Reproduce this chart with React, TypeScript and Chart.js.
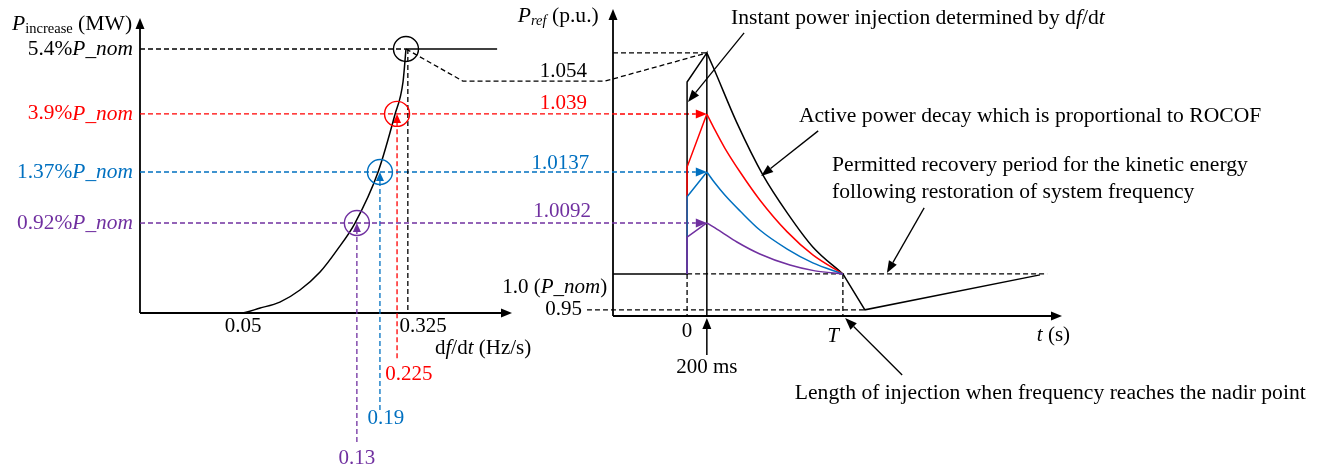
import React, { useEffect, useRef } from 'react';
import { Chart, registerables } from 'chart.js';

Chart.register(...registerables);

// ---------------- DATA (schematic units: every axis runs 0 → 100 up to its arrow tip) ----------------
// Left panel: df/dt (ROCOF) → P_increase
const curveX = [0, 26.9, 32.3, 37.6, 43.0, 48.4, 53.0, 57.8, 64.0, 68.5, 70.7, 71.5];
const curveY = [0, 0, 1.7, 3.7, 7.8, 13.9, 21.4, 30.5, 47.8, 67.1, 78.3, 89.5];
const capX = [71.5, 96.0];
const incLabels = ['5.4%', '3.9%', '1.37%', '0.92%'];
const incLevels = [89.5, 67.5, 47.8, 30.5];
const circleX = [71.5, 69.1, 64.5, 58.3];
const rocofLabels = ['0.325', '0.225', '0.19', '0.13'];
const rocofX = [72.0, 69.1, 64.5, 58.3];
const rocofDashBottom = [0, -15.3, -32.9, -43.7];
const rocofLabelX = [76.1, 72.3, 66.1, 58.3];
const rocofLabelY = [-4.7, -20.7, -35.9, -49.2];
const minRocofLabel = '0.05';
const minRocofX = 27.7;

// Right panel: t → P_ref
const prefLabels = ['1.054', '1.039', '1.0137', '1.0092'];
const prefLevels = [85.7, 65.8, 46.9, 30.3];
const prefStart = [76.2, 48.5, 38.8, 25.7];
const prefLabelRight = [-5.8, -5.8, -5.3, -4.9];
const prefLabelY = [79.8, 69.1, 49.8, 33.9];
const t0 = 16.5;
const t200 = 20.9;
const tT = 51.2;
const tNadir = 56.1;
const tRecovered = 95.1;
const tDashEnd = 96.7;
const pNom = 13.7;
const pLow = 2.0;
const pRecovered = 13.4;

const decayX = [
  [20.9, 22.3, 27.6, 33.4, 38.8, 44.5, 51.2],
  [20.9, 22.7, 24.9, 28.3, 32.7, 38.8, 44.5, 51.2],
  [20.9, 22.7, 24.9, 28.3, 32.7, 38.8, 44.5, 51.2],
  [20.9, 24.1, 27.6, 32.7, 39.4, 45.0, 51.2],
];
const decayY = [
  [85.7, 81.1, 62.9, 45.9, 33.6, 22.5, 13.7],
  [65.8, 60.6, 54.7, 46.9, 37.8, 27.4, 19.9, 13.7],
  [46.9, 43.3, 39.4, 34.2, 28.0, 21.8, 17.3, 13.7],
  [30.3, 27.4, 24.1, 20.2, 16.6, 14.7, 13.7],
];

// black dashed connector from the 5.4 % point to the 1.054 peak
const connL = [[71.5, 89.5], [86.8, 78.6]];
const connR = [[-1.8, 76.5], [20.9, 85.7]];

const notes = [
  'Instant power injection determined by d',
  'Active power decay which is proportional to ROCOF',
  'Permitted recovery period for the kinetic energy',
  'following restoration of system frequency',
  'Length of injection when frequency reaches the nadir point',
];
const noteX = [26.3, 41.4, 48.8, 48.8, 40.5];
const noteY = [97.1, 65.1, 49.2, 40.4, -25.1];
const noteArrows = [
  [[29.2, 92.2], [16.7, 69.7]],
  [[45.7, 60.3], [33.0, 45.6]],
  [[69.3, 35.2], [61.0, 14.0]],
  [[64.4, -19.2], [51.7, -0.65]],
];

// ---------------- STYLE / LAYOUT ----------------
const W = 1322;
const H = 471;
const BLACK = '#000000';
const RED = '#FF0000';
const BLUE = '#0070C0';
const PURPLE = '#7030A0';
const caseColors = [BLACK, RED, BLUE, PURPLE];
const SERIF = '"Liberation Serif", "Times New Roman", Times, serif';
const DASH = [5, 3];
const NOTE_SIZE = 21.6;
const LEFT = { ox: 140, oy: 313, ux: 3.72, uy: 2.95 };
const RIGHT = { ox: 613, oy: 316, ux: 4.49, uy: 3.07 };

const zip = (xs: number[], ys: number[]) => xs.map((x, i) => ({ x, y: ys[i] }));

type Seg = { t: string; i?: boolean; s?: number; dy?: number };
const font = (size: number, italic?: boolean) => `${italic ? 'italic ' : ''}${size}px ${SERIF}`;

function drawRich(
  ctx: CanvasRenderingContext2D,
  segs: Seg[],
  x: number,
  y: number,
  align: 'left' | 'right' | 'center',
  color: string,
  size = 21,
  baseline: CanvasTextBaseline = 'middle'
) {
  ctx.save();
  ctx.fillStyle = color;
  ctx.textBaseline = baseline;
  ctx.textAlign = 'left';
  let total = 0;
  const widths = segs.map((sg) => {
    ctx.font = font(sg.s ?? size, sg.i);
    const w = ctx.measureText(sg.t).width;
    total += w;
    return w;
  });
  let cx = align === 'left' ? x : align === 'right' ? x - total : x - total / 2;
  segs.forEach((sg, k) => {
    ctx.font = font(sg.s ?? size, sg.i);
    ctx.fillText(sg.t, cx, y + (sg.dy ?? 0));
    cx += widths[k];
  });
  ctx.restore();
}

function arrow(
  ctx: CanvasRenderingContext2D,
  x1: number,
  y1: number,
  x2: number,
  y2: number,
  color: string,
  o: { dash?: number[]; len?: number; half?: number; width?: number } = {}
) {
  const len = o.len ?? 11;
  const half = o.half ?? 4.5;
  const ang = Math.atan2(y2 - y1, x2 - x1);
  const bx = x2 - len * Math.cos(ang);
  const by = y2 - len * Math.sin(ang);
  ctx.save();
  ctx.strokeStyle = color;
  ctx.fillStyle = color;
  ctx.lineWidth = o.width ?? 1.4;
  ctx.setLineDash(o.dash ?? []);
  ctx.beginPath();
  ctx.moveTo(x1, y1);
  ctx.lineTo(bx, by);
  ctx.stroke();
  ctx.setLineDash([]);
  ctx.beginPath();
  ctx.moveTo(x2, y2);
  ctx.lineTo(bx + half * Math.sin(ang), by - half * Math.cos(ang));
  ctx.lineTo(bx - half * Math.sin(ang), by + half * Math.cos(ang));
  ctx.closePath();
  ctx.fill();
  ctx.restore();
}

const diagramPlugin = {
  id: 'diagram',
  beforeDatasetsDraw(chart: any) {
    const { ctx, scales } = chart;
    const L = (x: number, y: number): [number, number] => [scales.xL.getPixelForValue(x), scales.yL.getPixelForValue(y)];
    const R = (x: number, y: number): [number, number] => [scales.xR.getPixelForValue(x), scales.yR.getPixelForValue(y)];
    // axes
    const ax = { width: 1.8, len: 11, half: 4.5 };
    arrow(ctx, ...L(0, 0), ...L(0, 100), BLACK, ax);
    arrow(ctx, ...L(0, 0), ...L(100, 0), BLACK, ax);
    arrow(ctx, ...R(0, 0), ...R(0, 100), BLACK, ax);
    arrow(ctx, ...R(0, 0), ...R(100, 0), BLACK, ax);
    // black dashed connector
    const c = [...connL.map(([x, y]) => L(x, y)), ...connR.map(([x, y]) => R(x, y))];
    ctx.save();
    ctx.strokeStyle = BLACK;
    ctx.lineWidth = 1.3;
    ctx.setLineDash(DASH);
    ctx.beginPath();
    c.forEach(([x, y], i) => (i ? ctx.lineTo(x, y) : ctx.moveTo(x, y)));
    ctx.stroke();
    ctx.restore();
    // coloured cross-panel dashed lines and rocof dashed verticals
    for (let k = 1; k < 4; k++) {
      arrow(ctx, ...L(0, incLevels[k]), ...R(t200, prefLevels[k]), caseColors[k], { dash: DASH, width: 1.3, len: 11, half: 4.5 });
      arrow(ctx, ...L(rocofX[k], rocofDashBottom[k]), ...L(rocofX[k], incLevels[k]), caseColors[k], { dash: DASH, width: 1.3, len: 9, half: 4 });
    }
  },
  afterDatasetsDraw(chart: any) {
    const { ctx, scales } = chart;
    const L = (x: number, y: number): [number, number] => [scales.xL.getPixelForValue(x), scales.yL.getPixelForValue(y)];
    const R = (x: number, y: number): [number, number] => [scales.xR.getPixelForValue(x), scales.yR.getPixelForValue(y)];
    // annotation arrows
    noteArrows.forEach(([a, b]) => arrow(ctx, ...R(a[0], a[1]), ...R(b[0], b[1]), BLACK, { width: 1.3, len: 12, half: 4.5 }));
    arrow(ctx, ...R(t200, -12.7), ...R(t200, -0.65), BLACK, { width: 1.5, len: 11, half: 4.5 });

    // left texts
    let p = L(-34.4, 95.9);
    drawRich(ctx, [{ t: 'P', i: true }, { t: 'increase', s: 14.5, dy: 3 }, { t: ' (MW)' }], p[0], p[1], 'left', BLACK, 21.6, 'alphabetic');
    incLabels.forEach((lab, k) => {
      const q = L(-1.9, incLevels[k]);
      drawRich(ctx, [{ t: lab }, { t: 'P_nom', i: true }], q[0], q[1], 'right', caseColors[k], 21.4);
    });
    p = L(minRocofX, -4.7);
    drawRich(ctx, [{ t: minRocofLabel }], p[0], p[1], 'center', BLACK);
    rocofLabels.forEach((lab, k) => {
      const q = L(rocofLabelX[k], rocofLabelY[k]);
      drawRich(ctx, [{ t: lab }], q[0], q[1], 'center', caseColors[k]);
    });
    p = L(79.3, -11.9);
    drawRich(ctx, [{ t: 'd' }, { t: 'f', i: true }, { t: '/d' }, { t: 't', i: true }, { t: ' (Hz/s)' }], p[0], p[1], 'left', BLACK);

    // right texts
    p = R(-21.2, 95.8);
    drawRich(ctx, [{ t: 'P', i: true }, { t: 'ref', i: true, s: 14.5, dy: 3 }, { t: ' (p.u.)' }], p[0], p[1], 'left', BLACK, 21.6, 'alphabetic');
    prefLabels.forEach((lab, k) => {
      const q = R(prefLabelRight[k], prefLabelY[k]);
      drawRich(ctx, [{ t: lab }], q[0], q[1], 'right', caseColors[k]);
    });
    p = R(-1.3, 9.4);
    drawRich(ctx, [{ t: '1.0 (' }, { t: 'P_nom', i: true }, { t: ')' }], p[0], p[1], 'right', BLACK);
    p = R(-6.9, pLow);
    drawRich(ctx, [{ t: '0.95' }], p[0], p[1], 'right', BLACK);
    p = R(t0, -5.2);
    drawRich(ctx, [{ t: '0' }], p[0], p[1], 'center', BLACK);
    p = R(t200, -16.9);
    drawRich(ctx, [{ t: '200 ms' }], p[0], p[1], 'center', BLACK);
    p = R(49.0, -6.8);
    drawRich(ctx, [{ t: 'T', i: true }], p[0], p[1], 'center', BLACK);
    p = R(94.4, -6.5);
    drawRich(ctx, [{ t: 't', i: true }, { t: ' (s)' }], p[0], p[1], 'left', BLACK);

    notes.forEach((n, k) => {
      const q = R(noteX[k], noteY[k]);
      const segs: Seg[] = k === 0 ? [{ t: n }, { t: 'f', i: true }, { t: '/d' }, { t: 't', i: true }] : [{ t: n }];
      drawRich(ctx, segs, q[0], q[1], 'left', BLACK, NOTE_SIZE);
    });
  },
};

const frameX = (f: { ox: number; ux: number }) => ({ min: -f.ox / f.ux, max: (W - f.ox) / f.ux });
const frameY = (f: { oy: number; uy: number }) => ({ min: (f.oy - H) / f.uy, max: f.oy / f.uy });

export default function App() {
  const ref = useRef<HTMLCanvasElement | null>(null);

  useEffect(() => {
    if (!ref.current) return;
    const line = (data: { x: number; y: number }[], side: 'L' | 'R', color: string, extra: any = {}) => ({
      data,
      xAxisID: 'x' + side,
      yAxisID: 'y' + side,
      showLine: true,
      borderColor: color,
      borderWidth: 1.5,
      pointRadius: 0,
      tension: 0,
      fill: false,
      clip: false,
      ...extra,
    });
    const dashed = { borderDash: DASH, borderWidth: 1.3, order: 10 };
    const mono = { cubicInterpolationMode: 'monotone' };

    const datasets: any[] = [
      // left panel
      line(zip(curveX, curveY), 'L', BLACK, { ...mono, order: 3 }),
      line(zip(capX, [incLevels[0], incLevels[0]]), 'L', BLACK, { order: 3 }),
      line(zip([0, circleX[0]], [incLevels[0], incLevels[0]]), 'L', BLACK, dashed),
      line(zip([rocofX[0], rocofX[0]], [incLevels[0], rocofDashBottom[0]]), 'L', BLACK, dashed),
      {
        data: zip(circleX, incLevels),
        xAxisID: 'xL',
        yAxisID: 'yL',
        showLine: false,
        pointRadius: 12.5,
        pointBorderWidth: 1.4,
        pointBorderColor: caseColors,
        pointBackgroundColor: 'rgba(0,0,0,0)',
        clip: false,
        order: 0,
      },
      // right panel dashed references
      line(zip([0, t200], [prefLevels[0], prefLevels[0]]), 'R', BLACK, dashed),
      line(zip([t0, tDashEnd], [pNom, pNom]), 'R', BLACK, dashed),
      line(zip([-5.8, tNadir], [pLow, pLow]), 'R', BLACK, dashed),
      line(zip([t0, t0], [pNom, 0]), 'R', BLACK, dashed),
      line(zip([tT, tT], [pNom, 0]), 'R', BLACK, dashed),
      // right panel black envelope
      line(zip([0, t0, t0, t200, t200], [pNom, pNom, prefStart[0], prefLevels[0], 0]), 'R', BLACK, { order: 5 }),
      line(zip(decayX[0], decayY[0]), 'R', BLACK, { ...mono, order: 5 }),
      line(zip([tT, tNadir, tRecovered], [pNom, pLow, pRecovered]), 'R', BLACK, { order: 5 }),
    ];
    for (let k = 1; k < 4; k++) {
      datasets.push(line(zip([t0, t0, t200], [pNom, prefStart[k], prefLevels[k]]), 'R', caseColors[k], { order: 4 - k }));
      datasets.push(line(zip(decayX[k], decayY[k]), 'R', caseColors[k], { ...mono, order: 4 - k }));
    }

    const fxL = frameX(LEFT);
    const fyL = frameY(LEFT);
    const fxR = frameX(RIGHT);
    const fyR = frameY(RIGHT);

    const chart = new Chart(ref.current, {
      type: 'scatter',
      data: { datasets },
      options: {
        animation: false,
        responsive: false,
        devicePixelRatio: 1,
        events: [],
        layout: { padding: 0, autoPadding: false },
        plugins: { legend: { display: false }, tooltip: { enabled: false } },
        scales: {
          xL: { type: 'linear', display: false, min: fxL.min, max: fxL.max },
          yL: { type: 'linear', display: false, min: fyL.min, max: fyL.max },
          xR: { type: 'linear', display: false, min: fxR.min, max: fxR.max },
          yR: { type: 'linear', display: false, min: fyR.min, max: fyR.max },
        },
      },
      plugins: [diagramPlugin],
    } as any);
    return () => chart.destroy();
  }, []);

  return (
    <div style={{ position: 'fixed', left: 0, top: 0, width: W, height: H, background: '#fff' }}>
      <canvas ref={ref} width={W} height={H} style={{ display: 'block' }} />
    </div>
  );
}
